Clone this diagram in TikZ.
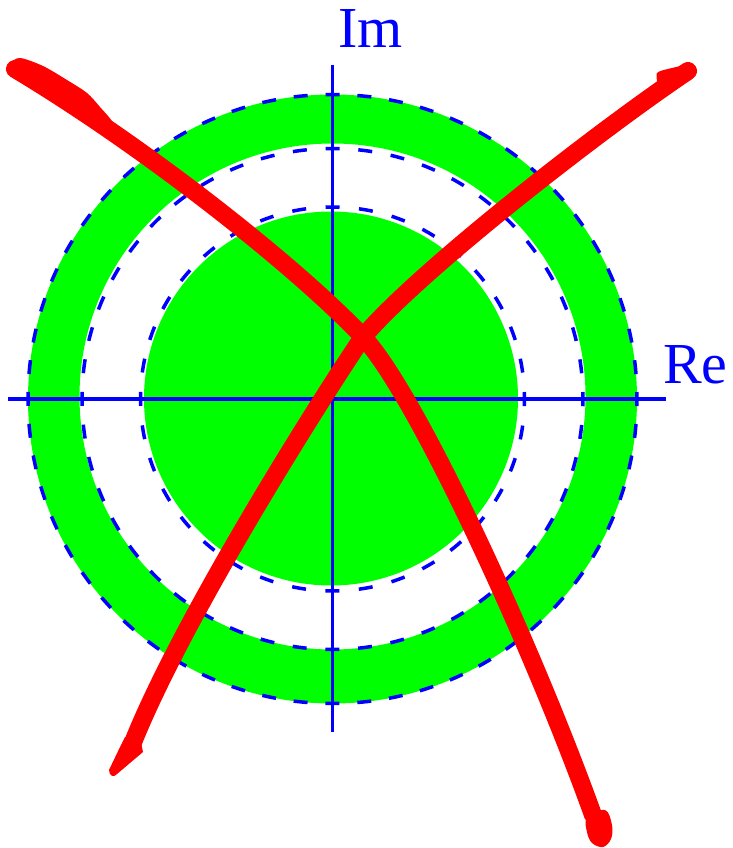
\documentclass[tikz,border=0pt]{standalone}
\usepackage{fontspec}
\setmainfont{Liberation Serif}
\definecolor{pgreen}{RGB}{0,255,0}
\definecolor{pblue}{RGB}{0,0,255}
\definecolor{pred}{RGB}{255,0,0}
\begin{document}
\begin{tikzpicture}[x=1pt,y=-1pt,
  axis/.style={pblue,line width=3.3pt},
  dcirc/.style={pblue,line width=3.5pt,dash phase=7pt},
  lbl/.style={pblue,font=\fontsize{58}{58}\selectfont,anchor=base west,inner sep=0pt},
  curve/.style={pred,line width=18pt,line cap=round,line join=round},
  blob/.style={pred}]
\useasboundingbox (0,0) rectangle (732,848);
% green regions
\fill[pgreen,even odd rule] (332.5,399) circle (304.5pt) (332.5,396.5) circle (253pt);
\fill[pgreen] (331,398.5) circle (187pt);
% dashed circles
\draw[dcirc,dash pattern=on 14pt off 17.89pt] (332.5,399) circle (304.5pt);
\draw[dcirc,dash pattern=on 14pt off 18.79pt] (332.5,399) circle (250.5pt);
\draw[dcirc,dash pattern=on 14pt off 19.51pt] (332.5,399) circle (192pt);
% axes
\draw[axis] (8,399) -- (666,399);
\draw[axis] (332.7,65) -- (332.7,732);
% labels
\node[lbl] (im) at (338,48) {Im};
\node[lbl] (re) at (663,383) {Re};
% red curves
\coordinate (x) at (363,337);
\draw[curve] (15,69) .. controls (150,150) and (300,270) .. (x)
             .. controls (415,392) and (530,640) .. (593,815);
\draw[curve] (688,71) .. controls (600,130) and (420,270) .. (x)
             .. controls (330,385) and (180,620) .. (130,750);
% end blobs
\fill[blob] plot[smooth cycle,tension=0.5] coordinates {(10,64) (20,58) (43,66) (67,80) (87,93) (100,107) (112,122) (100,124) (40,88) (12,73)};
\fill[blob] plot[smooth cycle,tension=0.4] coordinates {(657,73) (672,68) (688,65) (695,68) (693,74) (680,81) (660,88)};
\fill[blob] (125,737) -- (121,745) -- (109,770) .. controls (109,776) and (114,778) .. (117,774) -- (143,752) -- (140,738) -- cycle;
\fill[blob] plot[smooth cycle,tension=0.6] coordinates {(587,818) (605,810) (612,825) (611,839) (603,847) (592,843) (587,832)};
\end{tikzpicture}
\end{document}
